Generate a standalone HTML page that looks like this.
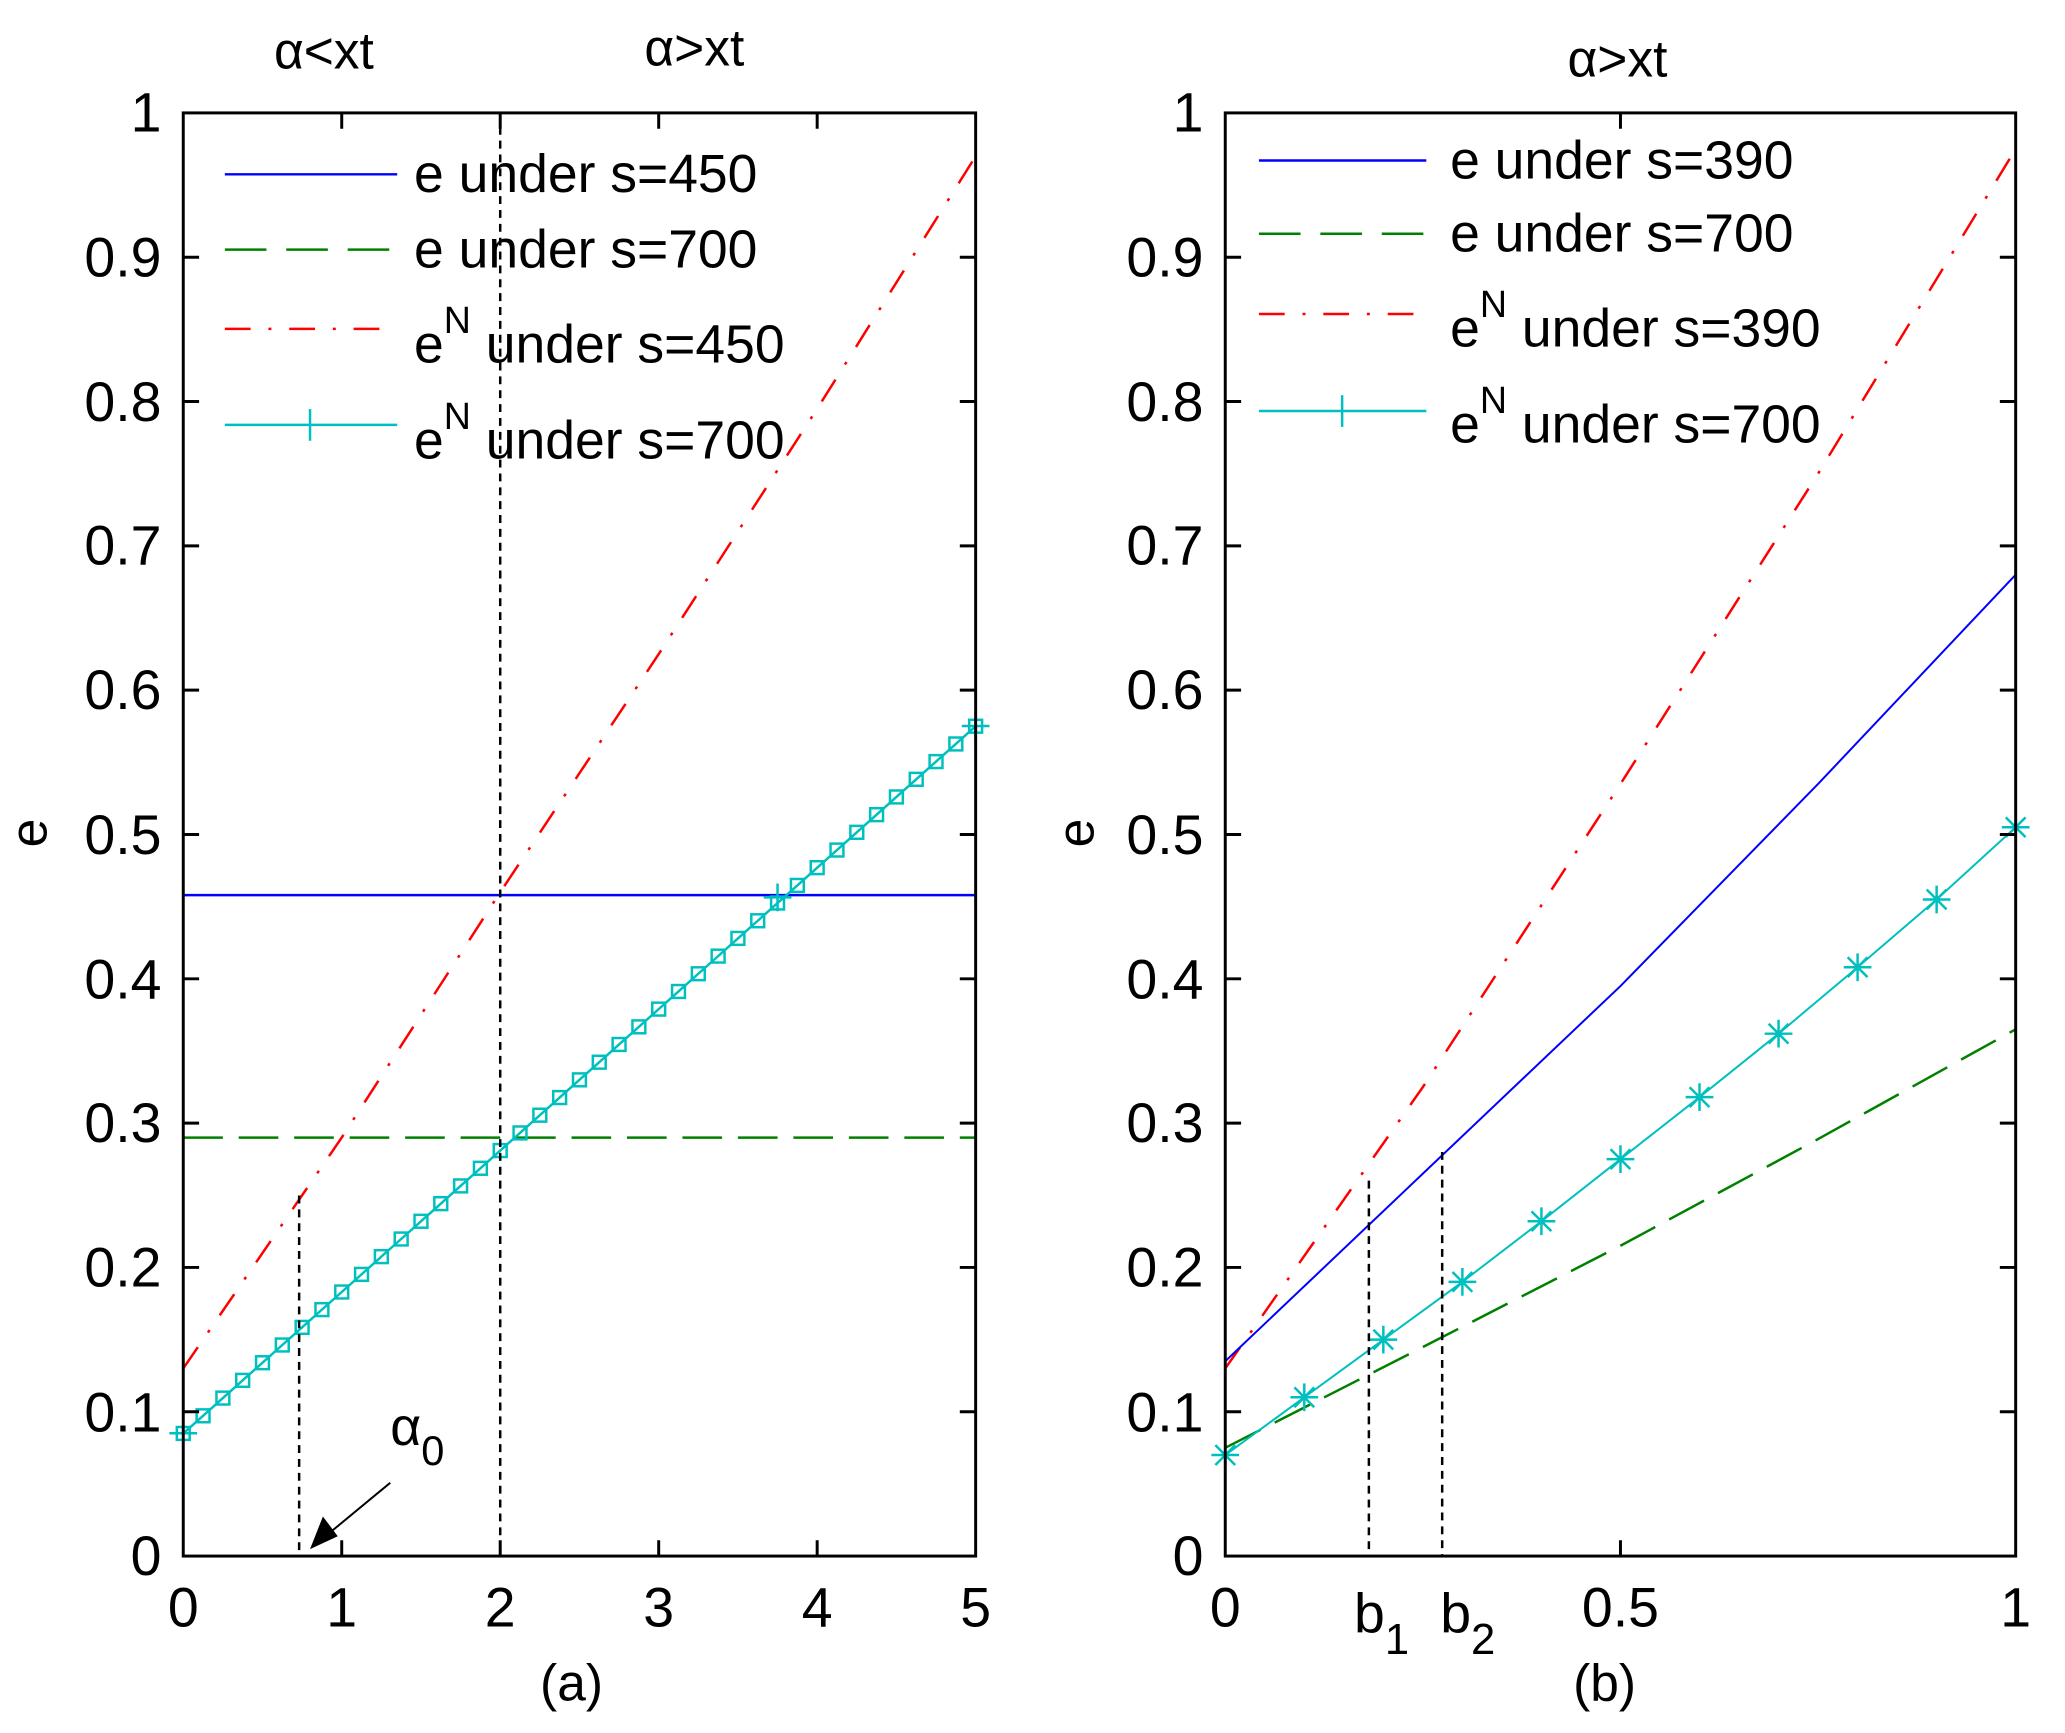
<!DOCTYPE html>
<html><head><meta charset="utf-8"><style>
html,body{margin:0;padding:0;background:#fff}
svg{display:block}
text{font-family:"Liberation Sans",sans-serif;fill:#000}
</style></head><body>
<svg width="2065" height="1733" viewBox="0 0 2065 1733" xmlns="http://www.w3.org/2000/svg">
<defs>
<marker id="sq" viewBox="-8 -8 16 16" markerWidth="16" markerHeight="16" markerUnits="userSpaceOnUse" refX="0" refY="0">
<rect x="-6.5" y="-6.5" width="13" height="13" fill="none" stroke="#00bfbf" stroke-width="2.5"/>
</marker>
<marker id="ast" viewBox="-16 -16 32 32" markerWidth="32" markerHeight="32" markerUnits="userSpaceOnUse" refX="0" refY="0">
<path d="M-14 0H14M0 -14V14M-10 -10L10 10M-10 10L10 -10" stroke="#00bfbf" stroke-width="2.5" fill="none"/>
</marker>
</defs>
<g transform="translate(1,-1) scale(0.9905)">
<!-- Panel a -->
<g fill="none">
<line x1="184" y1="904.7" x2="984" y2="904.7" stroke="#0000ff" stroke-width="2.5"/>
<line x1="184" y1="1149.5" x2="984" y2="1149.5" stroke="#008000" stroke-width="2.5" stroke-dasharray="40,16"/>
<polyline points="184,1382.6 344,1149.5 504,901.8 664,661.4 824,413.7 984,158.7" stroke="#ff0000" stroke-width="2.5" stroke-dasharray="26,18,3,18"/>
<polyline points="184,1448.2 204,1430.4 224,1412.5 244,1394.6 264,1376.8 284,1358.9 304,1341.1 324,1323.2 344,1305.4 364,1287.6 384,1269.7 404,1251.9 424,1234.0 444,1216.2 464,1198.3 484,1180.5 504,1162.6 524,1144.8 544,1126.9 564,1109.1 584,1091.2 604,1073.4 624,1055.5 644,1037.7 664,1019.8 684,1002.0 704,984.1 724,966.3 744,948.4 764,930.6 784,912.7 804,894.9 824,877.0 844,859.2 864,841.3 884,823.5 904,805.6 924,787.8 944,769.9 964,752.1 984,734.2" stroke="#00bfbf" stroke-width="2.5" marker-start="url(#sq)" marker-mid="url(#sq)" marker-end="url(#sq)"/>
<path d="M170 1448H198M184 1434V1462M770 907H798M784 893V921M970 734H998M984 720V748" stroke="#00bfbf" stroke-width="2.5"/>
<line x1="504" y1="115" x2="504" y2="1572" stroke="#000" stroke-width="2.5" stroke-dasharray="8,6"/>
<line x1="301" y1="1208" x2="301" y2="1572" stroke="#000" stroke-width="2.5" stroke-dasharray="8,6"/>
<line x1="393" y1="1498" x2="330" y2="1550" stroke="#000" stroke-width="2"/>
<path d="M312 1565L325 1532L340 1552Z" fill="#000"/>
<rect x="184" y="115" width="800" height="1457" stroke="#000" stroke-width="3"/>
<path d="M344 115v16M504 115v16M664 115v16M824 115v16M344 1572v-16M504 1572v-16M664 1572v-16M824 1572v-16
M184 1426.3h16M184 1280.6h16M184 1134.9h16M184 989.2h16M184 843.5h16M184 697.8h16M184 552.1h16M184 406.4h16M184 260.7h16
M984 1426.3h-16M984 1280.6h-16M984 1134.9h-16M984 989.2h-16M984 843.5h-16M984 697.8h-16M984 552.1h-16M984 406.4h-16M984 260.7h-16" stroke="#000" stroke-width="3"/>
<line x1="226" y1="177" x2="400" y2="177" stroke="#0000ff" stroke-width="2.5"/>
<line x1="226" y1="253" x2="400" y2="253" stroke="#008000" stroke-width="2.5" stroke-dasharray="42,20"/>
<line x1="226" y1="333" x2="400" y2="333" stroke="#ff0000" stroke-width="2.5" stroke-dasharray="26,18,3,18"/>
<line x1="226" y1="430" x2="400" y2="430" stroke="#00bfbf" stroke-width="2.5"/>
<line x1="312" y1="414" x2="312" y2="446" stroke="#00bfbf" stroke-width="2.5"/>
</g>
<g font-size="54">
<text x="417" y="195">e under s=450</text>
<text x="417" y="271">e under s=700</text>
<text x="417" y="367">e<tspan dy="-30" font-size="38">N</tspan><tspan dy="30"> under s=450</tspan></text>
<text x="417" y="464">e<tspan dy="-30" font-size="38">N</tspan><tspan dy="30"> under s=700</tspan></text>
</g>
<g font-size="56" text-anchor="end">
<text x="162" y="134">1</text>
<text x="162" y="280">0.9</text>
<text x="162" y="426">0.8</text>
<text x="162" y="571">0.7</text>
<text x="162" y="717">0.6</text>
<text x="162" y="863">0.5</text>
<text x="162" y="1009">0.4</text>
<text x="162" y="1154">0.3</text>
<text x="162" y="1300">0.2</text>
<text x="162" y="1446">0.1</text>
<text x="162" y="1591">0</text>
</g>
<g font-size="56" text-anchor="middle">
<text x="184" y="1643">0</text>
<text x="344" y="1643">1</text>
<text x="504" y="1643">2</text>
<text x="664" y="1643">3</text>
<text x="824" y="1643">4</text>
<text x="984" y="1643">5</text>
<text x="576" y="1718" font-size="52">(a)</text>
<text x="326" y="70" font-size="52">α&lt;xt</text>
<text x="700" y="67" font-size="52">α&gt;xt</text>
<text x="1632" y="78" font-size="52">α&gt;xt</text>
<text x="1619" y="1718" font-size="52">(b)</text>
</g>
<text x="393" y="1460" font-size="54">α<tspan dy="20" font-size="42">0</tspan></text>
<text transform="translate(46,842) rotate(-90)" font-size="52" text-anchor="middle">e</text>
<text transform="translate(1103,842) rotate(-90)" font-size="52" text-anchor="middle">e</text>

<!-- Panel b -->
<g fill="none">
<polyline points="1236,1462.7 1435.5,1361 1635,1258.7 1834.5,1151 2034,1040.2" stroke="#008000" stroke-width="2.5" stroke-dasharray="40,16"/>
<polyline points="1236,1382.6 1435.5,1098.5 1635,792.5 1834.5,479.3 2034,151.4" stroke="#ff0000" stroke-width="2.5" stroke-dasharray="26,18,3,18"/>
<polyline points="1236,1375.3 1435.5,1185.9 1635,996.5 1834.5,792.5 2034,581.2" stroke="#0000ff" stroke-width="2"/>
<polyline points="1236,1470.0 1315.8,1411.7 1395.6,1353.5 1475.4,1295.2 1555.2,1234.0 1635,1171.3 1714.8,1108.7 1794.6,1044.6 1874.4,977.5 1954.2,909.1 2034,836.2" stroke="#00bfbf" stroke-width="2" marker-start="url(#ast)" marker-mid="url(#ast)" marker-end="url(#ast)"/>
<line x1="1381" y1="1193" x2="1381" y2="1572" stroke="#000" stroke-width="2.5" stroke-dasharray="8,6"/>
<line x1="1455" y1="1164" x2="1455" y2="1572" stroke="#000" stroke-width="2.5" stroke-dasharray="8,6"/>
<rect x="1236" y="115" width="798" height="1457" stroke="#000" stroke-width="3"/>
<path d="M1635 115v16M1635 1572v-16
M1236 1426.3h16M1236 1280.6h16M1236 1134.9h16M1236 989.2h16M1236 843.5h16M1236 697.8h16M1236 552.1h16M1236 406.4h16M1236 260.7h16
M2034 1426.3h-16M2034 1280.6h-16M2034 1134.9h-16M2034 989.2h-16M2034 843.5h-16M2034 697.8h-16M2034 552.1h-16M2034 406.4h-16M2034 260.7h-16" stroke="#000" stroke-width="3"/>
<line x1="1270" y1="163" x2="1439" y2="163" stroke="#0000ff" stroke-width="2.5"/>
<line x1="1270" y1="237" x2="1439" y2="237" stroke="#008000" stroke-width="2.5" stroke-dasharray="42,20"/>
<line x1="1270" y1="318" x2="1439" y2="318" stroke="#ff0000" stroke-width="2.5" stroke-dasharray="26,18,3,18"/>
<line x1="1270" y1="416" x2="1439" y2="416" stroke="#00bfbf" stroke-width="2.5"/>
<line x1="1354" y1="400" x2="1354" y2="432" stroke="#00bfbf" stroke-width="2.5"/>
</g>
<g font-size="54">
<text x="1463" y="181">e under s=390</text>
<text x="1463" y="255">e under s=700</text>
<text x="1463" y="351">e<tspan dy="-30" font-size="38">N</tspan><tspan dy="30"> under s=390</tspan></text>
<text x="1463" y="448">e<tspan dy="-30" font-size="38">N</tspan><tspan dy="30"> under s=700</tspan></text>
</g>
<g font-size="56" text-anchor="end">
<text x="1214" y="134">1</text>
<text x="1214" y="280">0.9</text>
<text x="1214" y="426">0.8</text>
<text x="1214" y="571">0.7</text>
<text x="1214" y="717">0.6</text>
<text x="1214" y="863">0.5</text>
<text x="1214" y="1009">0.4</text>
<text x="1214" y="1154">0.3</text>
<text x="1214" y="1300">0.2</text>
<text x="1214" y="1446">0.1</text>
<text x="1214" y="1591">0</text>
</g>
<g font-size="56" text-anchor="middle">
<text x="1236" y="1643">0</text>
<text x="1635" y="1643">0.5</text>
<text x="2034" y="1643">1</text>
</g>
<text x="1366" y="1649" font-size="56">b<tspan dy="22" font-size="44">1</tspan></text>
<text x="1453" y="1649" font-size="56">b<tspan dy="22" font-size="44">2</tspan></text>
</g>
</svg>
</body></html>
